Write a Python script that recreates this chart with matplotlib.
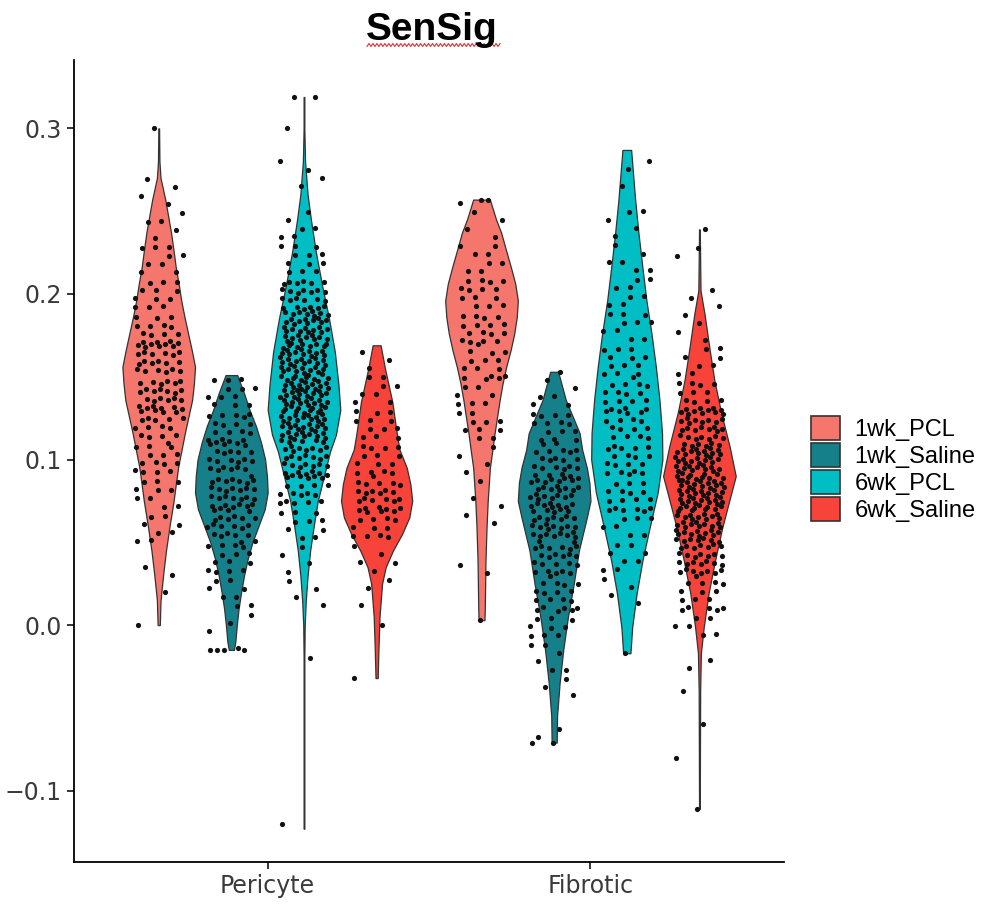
import numpy as np
import matplotlib.pyplot as plt
from matplotlib.patches import Patch

# categories / groups
cells = ['Pericyte', 'Fibrotic']
groups = ['1wk_PCL', '1wk_Saline', '6wk_PCL', '6wk_Saline']
colors = ['#F5766C', '#15808A', '#00BEC4', '#F7433A']

# violin outlines: (y level, relative half width)
outline = {
    ('Pericyte', '1wk_PCL'): (
        [0.300, 0.280, 0.270, 0.257, 0.247, 0.237, 0.226, 0.216, 0.206, 0.196, 0.186, 0.176, 0.166, 0.156,
         0.146, 0.136, 0.126, 0.116, 0.106, 0.096, 0.085, 0.075, 0.060, 0.045, 0.030, 0.015, 0.000],
        [0.01, 0.02, 0.05, 0.18, 0.26, 0.34, 0.41, 0.47, 0.55, 0.62, 0.71, 0.81, 0.91, 1.00,
         0.97, 0.92, 0.82, 0.72, 0.63, 0.54, 0.47, 0.41, 0.30, 0.20, 0.12, 0.05, 0.03]),
    ('Pericyte', '1wk_Saline'): (
        [0.151, 0.140, 0.130, 0.120, 0.110, 0.100, 0.090, 0.080, 0.070, 0.060, 0.050, 0.040, 0.030,
         0.020, 0.010, 0.000, -0.010, -0.015],
        [0.16, 0.35, 0.50, 0.68, 0.82, 0.93, 0.98, 1.00, 0.92, 0.75, 0.58, 0.45, 0.35,
         0.27, 0.20, 0.15, 0.11, 0.07]),
    ('Pericyte', '6wk_PCL'): (
        [0.319, 0.300, 0.280, 0.260, 0.245, 0.225, 0.205, 0.185, 0.165, 0.145, 0.130, 0.115, 0.105,
         0.090, 0.075, 0.060, 0.045, 0.030, 0.015, 0.000, -0.020, -0.123],
        [0.01, 0.01, 0.03, 0.10, 0.19, 0.33, 0.50, 0.69, 0.85, 0.95, 1.00, 0.88, 0.72,
         0.55, 0.38, 0.27, 0.17, 0.10, 0.05, 0.02, 0.01, 0.01]),
    ('Pericyte', '6wk_Saline'): (
        [0.169, 0.155, 0.135, 0.115, 0.106, 0.095, 0.085, 0.075, 0.065, 0.055, 0.045, 0.035, 0.025,
         0.005, -0.015, -0.032],
        [0.11, 0.23, 0.43, 0.56, 0.63, 0.83, 0.93, 0.98, 0.90, 0.70, 0.45, 0.25, 0.15,
         0.08, 0.05, 0.03]),
    ('Fibrotic', '1wk_PCL'): (
        [0.257, 0.245, 0.237, 0.226, 0.216, 0.206, 0.196, 0.186, 0.176, 0.166, 0.156, 0.146, 0.136,
         0.126, 0.116, 0.106, 0.095, 0.085, 0.075, 0.060, 0.040, 0.025, 0.010, 0.003],
        [0.23, 0.40, 0.54, 0.68, 0.81, 0.93, 1.00, 0.97, 0.90, 0.80, 0.68, 0.58, 0.50,
         0.43, 0.36, 0.30, 0.23, 0.20, 0.17, 0.14, 0.11, 0.10, 0.09, 0.08]),
    ('Fibrotic', '1wk_Saline'): (
        [0.153, 0.136, 0.116, 0.106, 0.095, 0.086, 0.075, 0.065, 0.045, 0.025, 0.005, -0.015, -0.035,
         -0.055, -0.071],
        [0.11, 0.32, 0.70, 0.77, 0.90, 0.97, 1.00, 0.90, 0.68, 0.54, 0.38, 0.25, 0.15,
         0.08, 0.07]),
    ('Fibrotic', '6wk_PCL'): (
        [0.287, 0.257, 0.237, 0.216, 0.196, 0.176, 0.156, 0.136, 0.116, 0.100, 0.080, 0.059, 0.039,
         0.019, -0.001, -0.017],
        [0.12, 0.23, 0.32, 0.43, 0.54, 0.68, 0.80, 0.90, 0.97, 0.98, 0.85, 0.63, 0.43,
         0.27, 0.15, 0.10]),
    ('Fibrotic', '6wk_Saline'): (
        [0.239, 0.220, 0.202, 0.188, 0.168, 0.148, 0.128, 0.108, 0.090, 0.080, 0.059, 0.039, 0.019,
         -0.001, -0.017, -0.040, -0.111],
        [0.01, 0.02, 0.03, 0.14, 0.27, 0.41, 0.60, 0.83, 1.00, 0.88, 0.63, 0.43, 0.25,
         0.12, 0.04, 0.02, 0.01]),
}

# jittered cells: estimated number of points per 0.02-wide bin
bin_mid = [-0.12, -0.10, -0.08, -0.06, -0.04, -0.02, 0.00, 0.02, 0.04, 0.06, 0.08, 0.10,
           0.12, 0.14, 0.16, 0.18, 0.20, 0.22, 0.24, 0.26, 0.28, 0.30, 0.32]
counts = {
    ('Pericyte', '1wk_PCL'):    [0, 0, 0, 0, 0, 0, 1, 1, 2, 8, 10, 14, 18, 25, 24, 15, 12, 9, 5, 4, 0, 1, 0],
    ('Pericyte', '1wk_Saline'): [0, 0, 0, 0, 0, 5, 3, 8, 14, 22, 28, 22, 18, 12, 0, 0, 0, 0, 0, 0, 0, 0, 0],
    ('Pericyte', '6wk_PCL'):    [1, 0, 0, 0, 0, 1, 0, 4, 4, 10, 18, 30, 45, 50, 45, 40, 25, 12, 6, 2, 2, 1, 2],
    ('Pericyte', '6wk_Saline'): [0, 0, 0, 0, 1, 0, 1, 3, 5, 15, 22, 14, 12, 8, 3, 0, 0, 0, 0, 0, 0, 0, 0],
    ('Fibrotic', '1wk_PCL'):    [0, 0, 0, 0, 0, 0, 1, 0, 2, 2, 3, 4, 10, 10, 12, 16, 14, 8, 4, 3, 0, 0, 0],
    ('Fibrotic', '1wk_Saline'): [0, 0, 2, 2, 3, 6, 12, 16, 22, 30, 32, 22, 14, 6, 1, 0, 0, 0, 0, 0, 0, 0, 0],
    ('Fibrotic', '6wk_PCL'):    [0, 0, 0, 0, 0, 1, 0, 4, 8, 10, 14, 18, 16, 16, 12, 10, 8, 6, 4, 2, 2, 0, 0],
    ('Fibrotic', '6wk_Saline'): [1, 0, 1, 1, 1, 2, 8, 14, 28, 40, 50, 45, 30, 15, 8, 4, 3, 2, 1, 0, 0, 0, 0],
}

yticks = [-0.1, 0.0, 0.1, 0.2, 0.3]

fig = plt.figure(figsize=(9.85, 9.11), dpi=100)
ax = fig.add_axes([0.0751, 0.0538, 0.721, 0.8803])
plt.rcParams['font.family'] = ['Liberation Sans', 'DejaVu Sans']

dodge = 0.225
offsets = [-1.5 * dodge, -0.5 * dodge, 0.5 * dodge, 1.5 * dodge]
jit = 0.075

for ci, cell in enumerate(cells):
    for gi, grp in enumerate(groups):
        xc = ci + 1 + offsets[gi]
        lev, w = outline[(cell, grp)]
        lev = np.array(lev)
        hw = np.array(w) * dodge / 2
        ax.fill_betweenx(lev, xc - hw, xc + hw, facecolor=colors[gi],
                         edgecolor='#333333', linewidth=0.9, zorder=2)
        # points from the bin counts, scattered inside their bin (R2 sequence, no lattice)
        ys, xs = [], []
        k = 1 + 7 * gi + 13 * ci
        for b, n in zip(bin_mid, counts[(cell, grp)]):
            for i in range(n):
                if n == 1:
                    ys.append(b)
                else:
                    ys.append(b + ((k * 0.7548776662) % 1 - 0.5) * 0.02)
                xs.append(xc + ((k * 0.5698402910 + 0.5) % 1 * 2 - 1) * jit)
                k += 1
        ys = np.clip(ys, lev.min(), lev.max())
        ax.scatter(xs, ys, s=14, color='#111111', linewidths=0, zorder=3)

ax.set_xlim(0.4, 2.6)
ax.set_ylim(-0.1431, 0.3413)
ax.set_xticks([1, 2])
ax.set_xticklabels(cells)
ax.set_yticks(yticks)
ax.set_yticklabels(['\u22120.1', '0.0', '0.1', '0.2', '0.3'])
for s in ['top', 'right']:
    ax.spines[s].set_visible(False)
for s in ['left', 'bottom']:
    ax.spines[s].set_linewidth(1.3)
ax.tick_params(length=5, width=1.1, labelsize=17, labelcolor='#3a3a3a', pad=4)

handles = [Patch(facecolor=c, edgecolor='#333333', linewidth=1.2) for c in colors]
fig.legend(handles, groups, loc='center left', bbox_to_anchor=(0.823, 0.485),
           frameon=False, fontsize=17, handlelength=1.25, handleheight=1.2,
           labelspacing=0.08, handletextpad=0.6, borderpad=0, borderaxespad=0)

fig.text(0.4386, 0.956, 'SenSig', ha='center', va='baseline', fontsize=28, fontweight='bold')
# red squiggle under the title
sx = np.linspace(367, 500, 68)
sy = 45 + 1.5 * np.where(np.arange(68) % 2 == 0, 1, -1)
fig.add_artist(plt.Line2D(sx / 985, 1 - sy / 911, color='#E03030', linewidth=0.8))

fig.savefig('out.png', dpi=100)
